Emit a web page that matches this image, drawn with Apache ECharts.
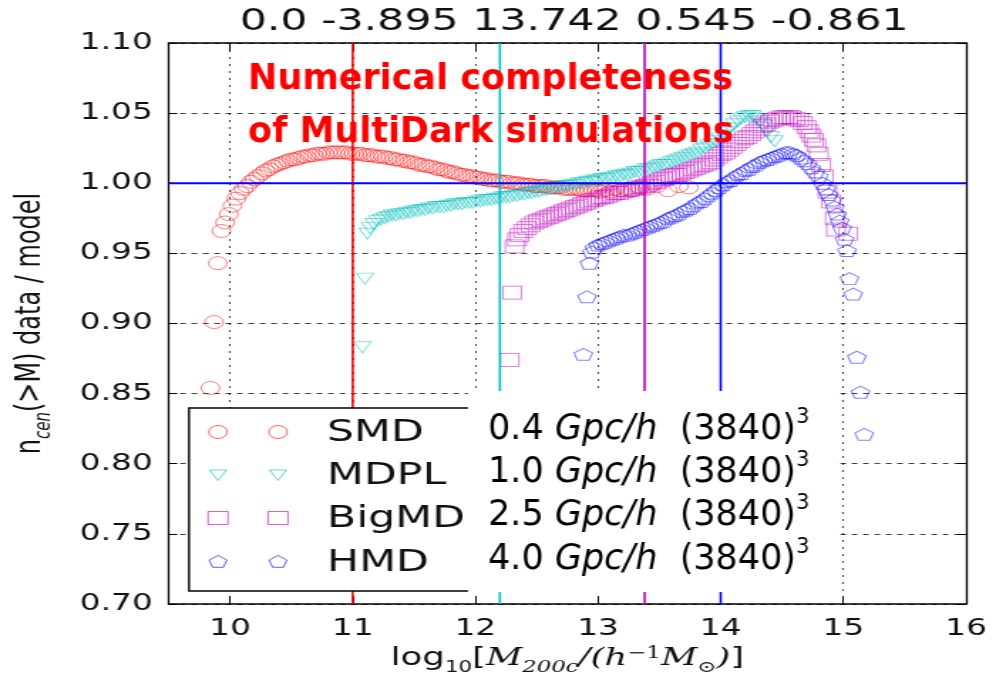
<!DOCTYPE html>
<html>
<head>
<meta charset="utf-8">
<title>Numerical completeness of MultiDark simulations</title>
<script src="https://cdn.jsdelivr.net/npm/echarts@6/dist/echarts.min.js"></script>
<style>
  html, body { margin: 0; padding: 0; background: #fff; overflow: hidden; }
  #wrap { position: relative; width: 996px; height: 682px; overflow: hidden; background: #fff; }
  #chart { position: absolute; left: 0; top: 0; width: 700px; height: 682px; transform-origin: 0 0; }
</style>
</head>
<body>
<div id="wrap"><div id="chart"></div></div>
<script>
// The figure is laid out on a 700px-wide canvas and widened to 996px.
const SX = 996 / 700;
const px = v => v / SX;            // page x -> canvas x

// ---- data -------------------------------------------------------------
const simNames  = ['SMD', 'MDPL', 'BigMD', 'HMD'];
const boxSizes  = ['0.4', '1.0', '2.5', '4.0'];          // Gpc/h
const particles = ['3840', '3840', '3840', '3840'];
const cutMass   = [11.0, 12.2, 13.38, 14.0];             // completeness limits
const topLabels = ['0.0', '-3.895', '13.742', '0.545', '-0.861'];
const refRatio  = 1.0;

const smdMass = [9.84, 9.87, 9.90, 9.93, 9.96, 9.99, 10.02, 10.05, 10.08, 10.11, 10.14, 10.17, 10.20, 10.23,
  10.26, 10.29, 10.32, 10.35, 10.38, 10.41, 10.44, 10.47, 10.50, 10.53, 10.56, 10.59, 10.62, 10.65, 10.68,
  10.71, 10.74, 10.77, 10.80, 10.83, 10.86, 10.89, 10.92, 10.95, 10.98, 11.01, 11.04, 11.07, 11.10, 11.13,
  11.16, 11.19, 11.22, 11.25, 11.28, 11.31, 11.34, 11.37, 11.40, 11.43, 11.46, 11.49, 11.52, 11.55, 11.58,
  11.61, 11.64, 11.67, 11.70, 11.73, 11.76, 11.79, 11.82, 11.85, 11.88, 11.91, 11.94, 11.97, 12.00, 12.03,
  12.06, 12.09, 12.12, 12.15, 12.18, 12.21, 12.24, 12.27, 12.30, 12.33, 12.36, 12.39, 12.42, 12.45, 12.48,
  12.51, 12.54, 12.57, 12.60, 12.63, 12.66, 12.69, 12.72, 12.75, 12.78, 12.81, 12.84, 12.87, 12.90, 12.93,
  12.96, 12.99, 13.02, 13.06, 13.10, 13.14, 13.18, 13.23, 13.28, 13.34, 13.40, 13.48, 13.57, 13.66, 13.74];
const smdRatio = [0.854, 0.901, 0.943, 0.966, 0.972, 0.978, 0.984, 0.989, 0.993, 0.996, 0.998, 1.001, 1.003, 1.005,
  1.007, 1.009, 1.010, 1.012, 1.013, 1.014, 1.015, 1.016, 1.017, 1.017, 1.018, 1.019, 1.019, 1.020, 1.020,
  1.021, 1.021, 1.021, 1.022, 1.022, 1.022, 1.022, 1.022, 1.022, 1.021, 1.021, 1.021, 1.021, 1.020, 1.020,
  1.020, 1.019, 1.019, 1.019, 1.018, 1.018, 1.017, 1.017, 1.016, 1.016, 1.015, 1.015, 1.014, 1.013, 1.013,
  1.012, 1.012, 1.011, 1.010, 1.010, 1.009, 1.008, 1.008, 1.007, 1.006, 1.006, 1.005, 1.005, 1.004, 1.004,
  1.003, 1.003, 1.002, 1.002, 1.002, 1.001, 1.001, 1.001, 1.000, 1.000, 1.000, 0.999, 0.999, 0.999, 0.998,
  0.998, 0.998, 0.998, 0.997, 0.997, 0.997, 0.997, 0.996, 0.996, 0.996, 0.996, 0.996, 0.995, 0.995, 0.995,
  0.995, 0.995, 0.994, 0.995, 0.994, 0.996, 0.995, 0.996, 0.995, 0.997, 0.996, 0.998, 0.995, 0.998, 0.997];

const mdplMass = [11.08, 11.10, 11.12, 11.14, 11.17, 11.20, 11.23, 11.26, 11.29, 11.32, 11.35, 11.38, 11.41,
  11.44, 11.47, 11.50, 11.53, 11.56, 11.59, 11.62, 11.65, 11.68, 11.71, 11.74, 11.77, 11.80, 11.83, 11.86,
  11.89, 11.92, 11.95, 11.98, 12.01, 12.04, 12.07, 12.10, 12.13, 12.16, 12.19, 12.22, 12.25, 12.28, 12.31,
  12.34, 12.37, 12.40, 12.43, 12.46, 12.49, 12.52, 12.55, 12.58, 12.61, 12.64, 12.67, 12.70, 12.73, 12.76,
  12.79, 12.82, 12.85, 12.88, 12.91, 12.94, 12.97, 13.00, 13.03, 13.06, 13.09, 13.12, 13.15, 13.18, 13.21,
  13.24, 13.27, 13.30, 13.33, 13.36, 13.39, 13.42, 13.45, 13.48, 13.51, 13.54, 13.57, 13.60, 13.63, 13.66,
  13.69, 13.72, 13.75, 13.78, 13.81, 13.84, 13.87, 13.90, 13.93, 13.96, 13.99, 14.02, 14.05, 14.08, 14.11,
  14.14, 14.17, 14.20, 14.23, 14.26, 14.29, 14.32, 14.35, 14.38, 14.41, 14.44];
const mdplRatio = [0.883, 0.932, 0.964, 0.968, 0.971, 0.973, 0.974, 0.975, 0.976, 0.977, 0.977, 0.978, 0.978,
  0.979, 0.979, 0.980, 0.980, 0.981, 0.981, 0.982, 0.982, 0.983, 0.983, 0.983, 0.984, 0.984, 0.985, 0.985,
  0.985, 0.986, 0.986, 0.986, 0.987, 0.987, 0.988, 0.988, 0.988, 0.989, 0.989, 0.990, 0.990, 0.990, 0.991,
  0.991, 0.992, 0.992, 0.993, 0.993, 0.994, 0.994, 0.995, 0.995, 0.996, 0.996, 0.997, 0.997, 0.998, 0.998,
  0.999, 0.999, 1.000, 1.000, 1.001, 1.001, 1.002, 1.002, 1.003, 1.003, 1.004, 1.004, 1.005, 1.005, 1.006,
  1.006, 1.007, 1.008, 1.008, 1.009, 1.010, 1.010, 1.011, 1.012, 1.013, 1.013, 1.014, 1.015, 1.016, 1.017,
  1.018, 1.019, 1.020, 1.021, 1.022, 1.024, 1.025, 1.027, 1.028, 1.030, 1.032, 1.034, 1.037, 1.039, 1.042,
  1.044, 1.046, 1.047, 1.048, 1.048, 1.046, 1.044, 1.041, 1.037, 1.033, 1.030];

const bigmdMass = [12.28, 12.30, 12.32, 12.34, 12.36, 12.39, 12.42, 12.45, 12.48, 12.51, 12.54, 12.57, 12.60,
  12.63, 12.66, 12.69, 12.72, 12.75, 12.78, 12.81, 12.84, 12.87, 12.90, 12.93, 12.96, 12.99, 13.02, 13.05,
  13.08, 13.11, 13.14, 13.17, 13.20, 13.23, 13.26, 13.29, 13.32, 13.35, 13.38, 13.41, 13.44, 13.47, 13.50,
  13.53, 13.56, 13.59, 13.62, 13.65, 13.68, 13.71, 13.74, 13.77, 13.80, 13.83, 13.86, 13.89, 13.92, 13.95,
  13.98, 14.01, 14.04, 14.07, 14.10, 14.13, 14.16, 14.19, 14.22, 14.25, 14.28, 14.31, 14.34, 14.37, 14.40,
  14.43, 14.46, 14.49, 14.52, 14.55, 14.58, 14.61, 14.64, 14.67, 14.70, 14.72, 14.74, 14.76, 14.78, 14.80,
  14.82, 14.84, 14.87, 14.90, 14.93, 14.94, 15.04];
const bigmdRatio = [0.874, 0.922, 0.955, 0.960, 0.963, 0.966, 0.968, 0.970, 0.972, 0.973, 0.974, 0.975, 0.976,
  0.977, 0.978, 0.979, 0.980, 0.981, 0.982, 0.983, 0.984, 0.985, 0.986, 0.987, 0.988, 0.989, 0.990, 0.990,
  0.991, 0.992, 0.993, 0.993, 0.994, 0.995, 0.995, 0.996, 0.997, 0.997, 0.998, 0.999, 1.000, 1.001, 1.002,
  1.003, 1.004, 1.005, 1.006, 1.006, 1.007, 1.008, 1.009, 1.010, 1.011, 1.012, 1.013, 1.014, 1.015, 1.017,
  1.019, 1.021, 1.022, 1.024, 1.026, 1.028, 1.030, 1.032, 1.033, 1.035, 1.037, 1.039, 1.041, 1.042, 1.044,
  1.045, 1.046, 1.047, 1.047, 1.047, 1.047, 1.046, 1.045, 1.043, 1.040, 1.037, 1.034, 1.031, 1.027, 1.021,
  1.013, 1.005, 0.994, 0.987, 0.975, 0.967, 0.964];

const hmdMass = [12.88, 12.91, 12.93, 12.95, 12.97, 13.00, 13.03, 13.06, 13.09, 13.12, 13.15, 13.18, 13.21,
  13.24, 13.27, 13.30, 13.33, 13.36, 13.39, 13.42, 13.45, 13.48, 13.51, 13.54, 13.57, 13.60, 13.63, 13.66,
  13.69, 13.72, 13.75, 13.78, 13.81, 13.84, 13.87, 13.90, 13.93, 13.96, 13.99, 14.02, 14.05, 14.08, 14.11,
  14.14, 14.17, 14.20, 14.23, 14.26, 14.29, 14.32, 14.35, 14.38, 14.41, 14.44, 14.47, 14.50, 14.53, 14.56,
  14.59, 14.62, 14.65, 14.68, 14.71, 14.74, 14.77, 14.80, 14.83, 14.86, 14.88, 14.91, 14.93, 14.95, 14.97,
  14.99, 15.01, 15.03, 15.05, 15.08, 15.11, 15.14, 15.17];
const hmdRatio = [0.878, 0.919, 0.943, 0.951, 0.954, 0.956, 0.957, 0.958, 0.959, 0.960, 0.961, 0.962, 0.963,
  0.963, 0.964, 0.965, 0.966, 0.967, 0.968, 0.969, 0.970, 0.971, 0.972, 0.973, 0.975, 0.976, 0.977, 0.978,
  0.980, 0.981, 0.982, 0.984, 0.986, 0.987, 0.989, 0.991, 0.993, 0.995, 0.997, 0.999, 1.001, 1.002, 1.004,
  1.006, 1.007, 1.009, 1.010, 1.012, 1.013, 1.015, 1.016, 1.017, 1.018, 1.019, 1.020, 1.021, 1.022, 1.022,
  1.021, 1.020, 1.018, 1.016, 1.014, 1.011, 1.008, 1.005, 1.000, 0.996, 0.992, 0.988, 0.983, 0.978, 0.973,
  0.968, 0.960, 0.952, 0.932, 0.921, 0.876, 0.851, 0.821];

// ---- styling ----------------------------------------------------------
const simRGB = ['255,0,0', '0,191,191', '191,0,191', '0,0,255'];
const simLine = ['#ff0000', '#00bfbf', '#bf00bf', '#0000ff'];
const MARKER_ALPHA = 0.62;
const PENTAGON = 'path://M0,-10 L9.51,-3.09 L5.88,8.09 L-5.88,8.09 L-9.51,-3.09 Z';
const markerDefs = [
  { symbol: 'circle',   size: 13,       rotate: 0 },
  { symbol: 'triangle', size: [12, 11], rotate: 180 },
  { symbol: 'rect',     size: 13,       rotate: 0 },
  { symbol: PENTAGON,   size: [13, 12], rotate: 0 }
];
const massSets  = [smdMass, mdplMass, bigmdMass, hmdMass];
const ratioSets = [smdRatio, mdplRatio, bigmdRatio, hmdRatio];

const X_MIN = 9.5, X_MAX = 16, Y_MIN = 0.7, Y_MAX = 1.1;
const FONT = '"DejaVu Sans", sans-serif';
const SERIF = '"DejaVu Serif", serif';

const chartEl = document.getElementById('chart');
chartEl.style.transform = 'scaleX(' + SX + ')';
const chart = echarts.init(chartEl, null, { renderer: 'canvas' });

const scatterSeries = simNames.map((name, i) => ({
  name: name,
  type: 'scatter',
  silent: true,
  z: 2,
  symbol: markerDefs[i].symbol,
  symbolSize: markerDefs[i].size,
  symbolRotate: markerDefs[i].rotate,
  itemStyle: { color: 'rgba(0,0,0,0)', borderColor: 'rgba(' + simRGB[i] + ',' + MARKER_ALPHA + ')', borderWidth: 1 },
  data: massSets[i].map((m, k) => [m, ratioSets[i][k]])
}));

const cutSeries = cutMass.map((m, i) => ({
  name: simNames[i] + ' limit',
  type: 'line',
  silent: true,
  z: 4,
  symbol: 'none',
  lineStyle: { color: simLine[i], width: 1.6 },
  data: [[m, Y_MIN], [m, Y_MAX]]
}));

const refSeries = {
  name: 'unity',
  type: 'line',
  silent: true,
  z: 4,
  symbol: 'none',
  lineStyle: { color: '#0000ff', width: 1.8 },
  data: [[X_MIN, refRatio], [X_MAX, refRatio]]
};

// ---- legend and annotations (graphic) ---------------------------------
const rowY = [432, 475, 518, 562];
function legendMarker(i, x, y) {
  const st = { fill: 'none', stroke: 'rgba(' + simRGB[i] + ',' + MARKER_ALPHA + ')', lineWidth: 1 };
  if (i === 0) return { type: 'circle', x: x, y: y, shape: { cx: 0, cy: 0, r: 6.5 }, style: st, z: 102 };
  if (i === 1) return { type: 'polygon', x: x, y: y, shape: { points: [[-6, -5], [6, -5], [0, 5.5]] }, style: st, z: 102 };
  if (i === 2) return { type: 'rect', x: x, y: y, shape: { x: -7, y: -6.5, width: 14, height: 13 }, style: st, z: 102 };
  return { type: 'polygon', x: x, y: y,
    shape: { points: [[0, -6.5], [6.2, -2], [3.8, 5.3], [-3.8, 5.3], [-6.2, -2]] }, style: st, z: 102 };
}

const graphics = [];
graphics.push({
  type: 'rect', z: 100,
  shape: { x: px(189), y: 408, width: px(300), height: 183 },
  style: { fill: '#fff', stroke: '#000', lineWidth: 1.4 }
});
simNames.forEach((name, i) => {
  graphics.push(legendMarker(i, px(218), rowY[i]));
  graphics.push(legendMarker(i, px(278), rowY[i]));
  graphics.push({
    type: 'text', z: 102, x: px(327), y: rowY[i] + 1,
    style: { text: name, font: '30px ' + FONT, fill: '#111', verticalAlign: 'middle', align: 'left' }
  });
});

// white panel with the simulation box sizes
graphics.push({
  type: 'rect', z: 110,
  shape: { x: px(468), y: 391, width: px(840 - 468), height: 201 },
  style: { fill: '#fff', stroke: null }
});
const boxRowY = [427, 470, 513, 557];
boxSizes.forEach((b, i) => {
  graphics.push({
    type: 'text', z: 112, x: px(488), y: boxRowY[i], scaleX: 1 / SX,
    style: {
      text: '{n|' + b + ' }{i|Gpc/h}{n|  (' + particles[i] + ')}{s|3}',
      verticalAlign: 'middle', align: 'left',
      rich: {
        n: { fontFamily: FONT, fontSize: 35, fill: '#000', lineHeight: 40, verticalAlign: 'bottom' },
        i: { fontFamily: FONT, fontSize: 35, fontStyle: 'italic', fill: '#000', lineHeight: 40, verticalAlign: 'bottom' },
        s: { fontFamily: FONT, fontSize: 21, fill: '#000', lineHeight: 21, verticalAlign: 'top' }
      }
    }
  });
});

// red headline
['Numerical completeness', 'of MultiDark simulations'].forEach((t, i) => {
  graphics.push({
    type: 'text', z: 112, x: px(248), y: [80, 133][i], scaleX: 1 / SX,
    style: { text: t, font: 'bold 35px ' + FONT, fill: '#ff0000', verticalAlign: 'middle', align: 'left' }
  });
});

// ---- axes ---------------------------------------------------------------
const option = {
  animation: false,
  backgroundColor: '#fff',
  title: {
    text: topLabels.join(' '),
    left: px(567), top: 2, textAlign: 'center',
    textStyle: { fontFamily: FONT, fontSize: 30, fontWeight: 'normal', color: '#111' }
  },
  grid: { left: px(168.7), right: px(996 - 966), top: 43, bottom: 682 - 604, containLabel: false },
  xAxis: [{
    type: 'value', min: X_MIN, max: X_MAX, splitNumber: 6, position: 'bottom',
    axisLine: { show: true, onZero: false, lineStyle: { color: '#000', width: 1.6 } },
    axisTick: { show: true, inside: true, length: 8, lineStyle: { color: '#000', width: 1 } },
    axisLabel: { show: true, showMinLabel: false, fontFamily: FONT, fontSize: 23, color: '#111', margin: 14 },
    splitLine: { show: true, lineStyle: { color: 'rgba(0,0,0,0.75)', width: 1, type: [2, 5] } },
    name: '{r|log}{rs|10}{r|[}{i|M}{is|200c}{i|/(h}{sup|−1}{i|M}{is|⊙}{i|)}{r|]}',
    nameLocation: 'middle', nameGap: 40,
    nameTextStyle: {
      rich: {
        r:   { fontFamily: FONT, fontSize: 25, color: '#111', padding: [0, 0, 5, 0], verticalAlign: 'bottom' },
        rs:  { fontFamily: FONT, fontSize: 15, color: '#111', verticalAlign: 'bottom' },
        i:   { fontFamily: SERIF, fontStyle: 'italic', fontSize: 25, color: '#111', padding: [0, 0, 5, 0], verticalAlign: 'bottom' },
        is:  { fontFamily: SERIF, fontStyle: 'italic', fontSize: 16, color: '#111', verticalAlign: 'bottom' },
        sup: { fontFamily: SERIF, fontSize: 16, color: '#111', verticalAlign: 'top' }
      }
    }
  }, {
    type: 'value', min: X_MIN, max: X_MAX, splitNumber: 6, position: 'top',
    axisLine: { show: true, onZero: false, lineStyle: { color: '#000', width: 1.6 } },
    axisTick: { show: true, inside: true, length: 8, lineStyle: { color: '#000', width: 1 } },
    axisLabel: { show: false },
    splitLine: { show: false }
  }],
  yAxis: [{
    type: 'value', min: Y_MIN, max: Y_MAX, interval: 0.05, position: 'left',
    axisLine: { show: true, onZero: false, lineStyle: { color: '#000', width: 1.3 } },
    axisTick: { show: true, inside: true, length: 6, lineStyle: { color: '#000', width: 1 } },
    axisLabel: { fontFamily: FONT, fontSize: 23, color: '#111', margin: px(16), formatter: v => v.toFixed(2) },
    splitLine: { show: true, lineStyle: { color: 'rgba(0,0,0,0.75)', width: 1, type: [4, 4] } },
    name: '{m|n}{s|cen}{m|(>M) data / model}',
    nameLocation: 'middle', nameGap: 80, nameRotate: 90,
    nameTextStyle: {
      rich: {
        m: { fontFamily: FONT, fontSize: 24, color: '#111', padding: [0, 0, 5, 0], verticalAlign: 'bottom' },
        s: { fontFamily: FONT, fontSize: 15, fontStyle: 'italic', color: '#111', verticalAlign: 'bottom' }
      }
    }
  }, {
    type: 'value', min: Y_MIN, max: Y_MAX, interval: 0.05, position: 'right',
    axisLine: { show: true, onZero: false, lineStyle: { color: '#000', width: 1.3 } },
    axisTick: { show: true, inside: true, length: 6, lineStyle: { color: '#000', width: 1 } },
    axisLabel: { show: false },
    splitLine: { show: false }
  }],
  series: scatterSeries.concat(cutSeries, [refSeries]),
  graphic: { elements: graphics }
};

chart.setOption(option);
</script>
</body>
</html>
